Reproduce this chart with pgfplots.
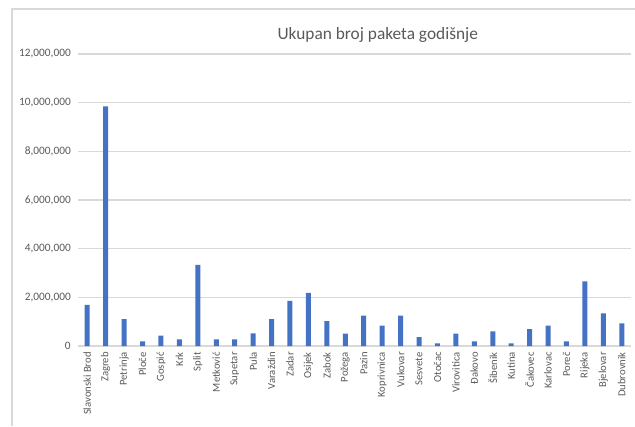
\documentclass[border=0pt]{standalone}
\usepackage{pgfplots}
\pgfplotsset{compat=1.18}
\usepackage{pgfplotstable}
\usepackage{fontspec}
\setmainfont{Carlito}
\definecolor{barblue}{HTML}{4472C4}
\definecolor{txtgray}{HTML}{595959}
\definecolor{gridgray}{HTML}{D9D9D9}
\pgfplotstableread{
idx value
0 1690000
1 9850000
2 1100000
3 190000
4 430000
5 270000
6 3330000
7 270000
8 270000
9 520000
10 1100000
11 1850000
12 2180000
13 1020000
14 510000
15 1250000
16 840000
17 1250000
18 360000
19 110000
20 510000
21 190000
22 600000
23 110000
24 690000
25 840000
26 190000
27 2660000
28 1340000
29 930000
}\datatable
\begin{document}
\begin{tikzpicture}
\useasboundingbox (0,0) rectangle (476.25pt,319.5pt);
\draw[gridgray, line width=0.8pt] (9pt,0pt) -- (9pt,312.75pt) -- (476.25pt,312.75pt);
\node[anchor=base, text=txtgray, font=\fontsize{13}{15}\selectfont] at (283.3pt,290.25pt) {Ukupan broj paketa godišnje};
\begin{axis}[
  at={(58.5pt,60pt)}, anchor=south west,
  scale only axis,
  width=414.75pt, height=219pt,
  xmin=-0.5, xmax=29.5,
  ymin=0, ymax=12000000,
  ytick={0,2000000,4000000,6000000,8000000,10000000,12000000},
  scaled y ticks=false,
  yticklabel style={/pgf/number format/fixed, /pgf/number format/precision=0, /pgf/number format/1000 sep={,}, /pgf/number format/assume math mode=true, font=\fontsize{8.5}{10}\selectfont, text=txtgray, inner sep=0pt},
  yticklabel shift=5.25pt,
  xtick={0,...,29},
  xticklabels={Slavonski Brod, Zagreb, Petrinja, Ploče, Gospić, Krk, Split, Metković, Supetar, Pula, Varaždin, Zadar, Osijek, Zabok, Požega, Pazin, Koprivnica, Vukovar, Sesvete, Otočac, Virovitica, Đakovo, Šibenik, Kutina, Čakovec, Karlovac, Poreč, Rijeka, Bjelovar, Dubrovnik},
  xticklabel style={rotate=90, anchor=east, font=\fontsize{8}{10}\selectfont, text=txtgray, inner sep=0pt},
  xticklabel shift=4.5pt,
  major tick length=0pt,
  axis line style={draw=none},
  ymajorgrids,
  major grid style={gridgray, line width=0.8pt},
  ybar, bar width=3.75pt,
  clip=false,
]
\addplot[fill=barblue, draw=none, bar shift=0pt] table[x=idx, y=value] {\datatable};
\end{axis}
\end{tikzpicture}
\end{document}
